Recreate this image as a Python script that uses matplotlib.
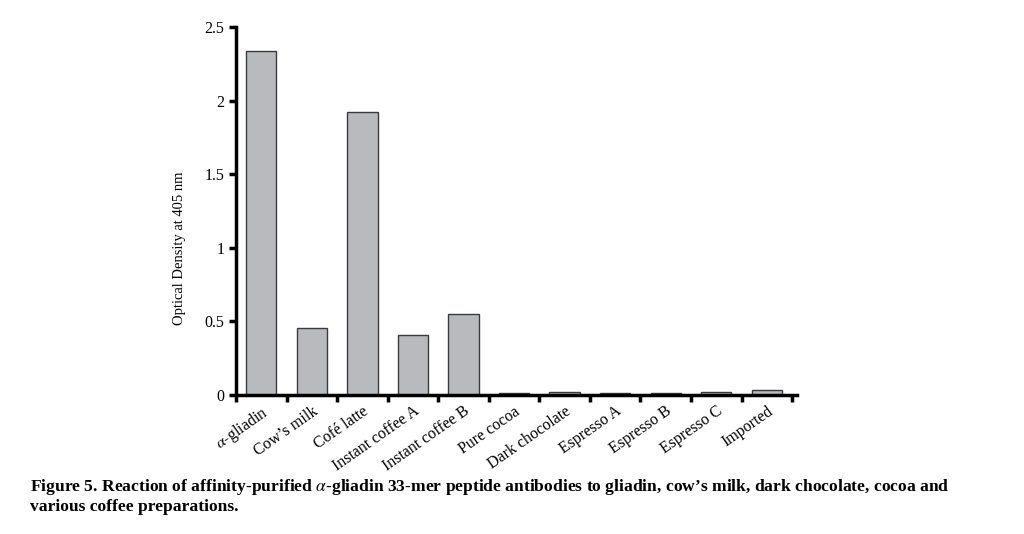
import numpy as np
import matplotlib.pyplot as plt

plt.rcParams['font.family'] = ['Liberation Serif', 'DejaVu Serif']
plt.rcParams['mathtext.fontset'] = 'stix'

# Data
samples = ['$\\alpha$-gliadin', 'Cow\u2019s milk', 'Cof\u00e9 latte', 'Instant coffee A',
           'Instant coffee B', 'Pure cocoa', 'Dark chocolate', 'Espresso A',
           'Espresso B', 'Espresso C', 'Imported']
optical_density = [2.34, 0.456, 1.925, 0.41, 0.55, 0.012, 0.022, 0.012, 0.012, 0.02, 0.032]
y_ticks = [0, 0.5, 1, 1.5, 2, 2.5]
y_tick_labels = ['0', '0.5', '1', '1.5', '2', '2.5']

caption = ("Figure 5. Reaction of affinity-purified $\\alpha$-gliadin 33-mer peptide antibodies "
           "to gliadin, cow\u2019s milk, dark chocolate, cocoa and\nvarious coffee preparations.")

fig = plt.figure(figsize=(10.24, 5.34), dpi=100)
ax = fig.add_axes([0.2305, 0.2603, 0.548, 0.689])

x = np.arange(len(samples))
ax.bar(x, optical_density, width=0.6, color='#b9babe', edgecolor='#3a3a3a', linewidth=1.0)

ax.set_xlim(-0.5, 10.6)
ax.set_ylim(0, 2.5)
ax.set_yticks(y_ticks)
ax.set_yticklabels(y_tick_labels, fontsize=11.5)
ax.set_xticks(np.arange(-0.5, 11, 1))
ax.set_xticklabels([])
ax.set_xticks(x, minor=True)
ax.set_xticklabels(samples, minor=True, rotation=35, ha='right', va='top',
                   rotation_mode='anchor', fontsize=11.5)
ax.tick_params(axis='x', which='minor', length=0, pad=6)
ax.tick_params(axis='both', which='major', width=2.5, length=5, direction='out')

for side in ['top', 'right']:
    ax.spines[side].set_visible(False)
for side in ['left', 'bottom']:
    ax.spines[side].set_linewidth(2.5)

ax.set_ylabel('Optical Density at 405 nm', fontsize=10.5)
ax.yaxis.set_label_coords(-0.09, 0.40)

fig.text(0.029, 0.035, caption, fontsize=12.6, fontweight='bold', ha='left', va='bottom',
         linespacing=1.2)

fig.savefig('out.png', dpi=100)
